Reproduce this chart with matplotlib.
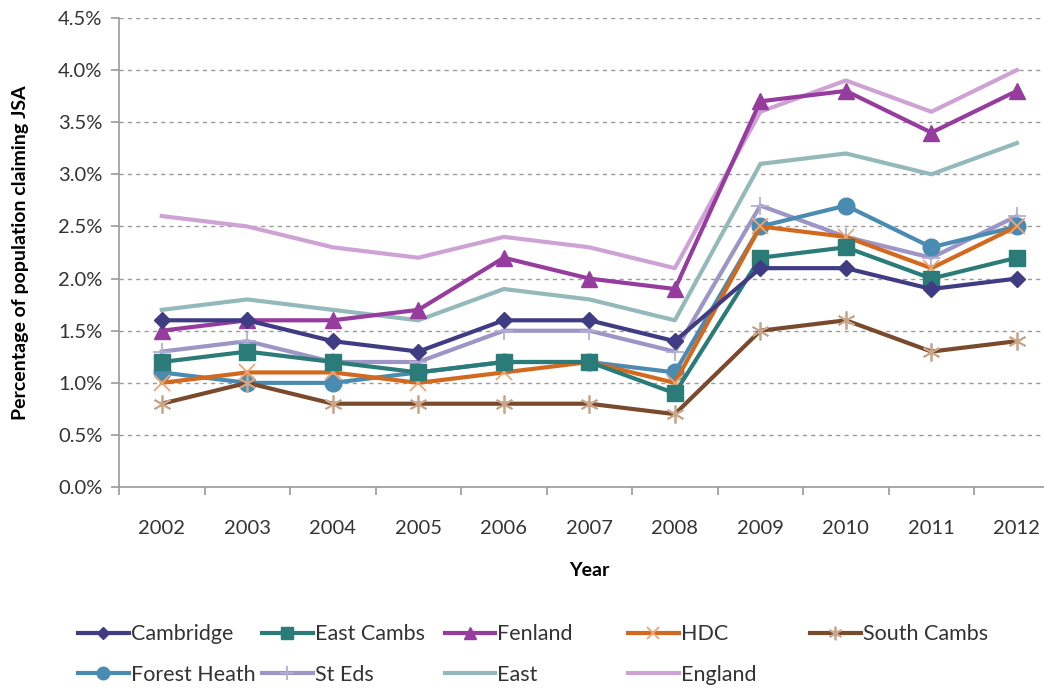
import matplotlib.pyplot as plt
from matplotlib.ticker import FuncFormatter, FixedLocator, NullFormatter

plt.rcParams['font.family'] = ['Lato', 'DejaVu Sans']

years = ['2002', '2003', '2004', '2005', '2006', '2007', '2008', '2009', '2010', '2011', '2012']

# % of population claiming JSA
cambridge    = [1.6, 1.6, 1.4, 1.3, 1.6, 1.6, 1.4, 2.1, 2.1, 1.9, 2.0]
east_cambs   = [1.2, 1.3, 1.2, 1.1, 1.2, 1.2, 0.9, 2.2, 2.3, 2.0, 2.2]
fenland      = [1.5, 1.6, 1.6, 1.7, 2.2, 2.0, 1.9, 3.7, 3.8, 3.4, 3.8]
hdc          = [1.0, 1.1, 1.1, 1.0, 1.1, 1.2, 1.0, 2.5, 2.4, 2.1, 2.5]
south_cambs  = [0.8, 1.0, 0.8, 0.8, 0.8, 0.8, 0.7, 1.5, 1.6, 1.3, 1.4]
forest_heath = [1.1, 1.0, 1.0, 1.1, 1.2, 1.2, 1.1, 2.5, 2.7, 2.3, 2.5]
st_eds       = [1.3, 1.4, 1.2, 1.2, 1.5, 1.5, 1.3, 2.7, 2.4, 2.2, 2.6]
east         = [1.7, 1.8, 1.7, 1.6, 1.9, 1.8, 1.6, 3.1, 3.2, 3.0, 3.3]
england      = [2.6, 2.5, 2.3, 2.2, 2.4, 2.3, 2.1, 3.6, 3.9, 3.6, 4.0]

# name, values, colour, marker, marker size, marker colour
series = [
    ('Cambridge',    cambridge,    '#403C84', 'D', 8,  '#403C84'),
    ('East Cambs',   east_cambs,   '#2B7C78', 's', 11, '#2B7C78'),
    ('Fenland',      fenland,      '#963C9E', '^', 11, '#963C9E'),
    ('HDC',          hdc,          '#D2691E', 'x', 11, '#EAA87A'),
    ('South Cambs',  south_cambs,  '#7A4A2C', (6, 2, 0), 13, '#C9A68A'),
    ('Forest Heath', forest_heath, '#4A8BB2', 'o', 12, '#4A8BB2'),
    ('St Eds',       st_eds,       '#9C95C6', '+', 13, '#B4AED4'),
    ('East',         east,         '#93B9BA', None, 0, None),
    ('England',      england,      '#CFA2D6', None, 0, None),
]

fig = plt.figure(figsize=(10.44, 6.89), dpi=100)
ax = fig.add_axes([0.114, 0.293, 0.901, 0.681])

x = range(len(years))
# background series first so the marked ones sit on top
order = [8, 7, 6, 5, 4, 3, 2, 1, 0]
handles = {}
for i in order:
    name, vals, col, mk, ms, mc = series[i]
    thin = mk in ('x', '+') or isinstance(mk, tuple)
    ln, = ax.plot(x, vals, color=col, lw=3, marker=mk, markersize=ms,
                  markerfacecolor=mc, markeredgecolor=mc,
                  markeredgewidth=1.3 if thin else 1,
                  label=name, zorder=3 + (9 - i) * 0.01)
    handles[name] = ln

ax.set_xlim(-0.5, len(years) - 0.5)
ax.set_ylim(0, 4.5)
ax.set_yticks([i * 0.5 for i in range(10)])
ax.yaxis.set_major_formatter(FuncFormatter(lambda v, p: '%.1f%%' % v))
ax.set_xticks(list(x))
ax.set_xticklabels(years)
ax.xaxis.set_minor_locator(FixedLocator([i - 0.5 for i in range(len(years) + 1)]))
ax.xaxis.set_minor_formatter(NullFormatter())
ax.tick_params(axis='x', which='major', length=0, pad=24, labelsize=14.5, labelcolor='#333333')
ax.tick_params(axis='x', which='minor', length=6, color='#999999', width=1.2)
ax.tick_params(axis='y', length=6, color='#999999', width=1.2, pad=6,
               labelsize=14.5, labelcolor='#333333')

ax.grid(axis='y', color='#9a9a9a', linestyle=(0, (3, 3)), linewidth=1)
ax.set_axisbelow(True)
for s in ('top', 'right'):
    ax.spines[s].set_visible(False)
for s in ('left', 'bottom'):
    ax.spines[s].set_color('#999999')
    ax.spines[s].set_linewidth(1.2)

ax.set_xlabel('Year', fontsize=14, fontweight='bold', labelpad=18)
ax.set_ylabel('Percentage of population claiming JSA', fontsize=14,
              fontweight='bold', labelpad=8)
ax.yaxis.set_label_coords(-0.096, 0.5)

# legend laid out in fixed columns, filled row by row
legend_cols = [['Cambridge', 'Forest Heath'], ['East Cambs', 'St Eds'],
               ['Fenland', 'East'], ['HDC', 'England'], ['South Cambs']]
col_x = [0.0747, 0.251, 0.426, 0.6015, 0.776]
for names, lx in zip(legend_cols, col_x):
    leg = fig.legend([handles[n] for n in names], names, loc='upper left',
                     bbox_to_anchor=(lx, 0.094), frameon=False, fontsize=15.5,
                     handlelength=2.35, handletextpad=0.1, labelspacing=0.95,
                     markerscale=0.75, borderpad=0, borderaxespad=0)
    for t in leg.get_texts():
        t.set_color('#333333')

fig.savefig('out.png', dpi=100)
